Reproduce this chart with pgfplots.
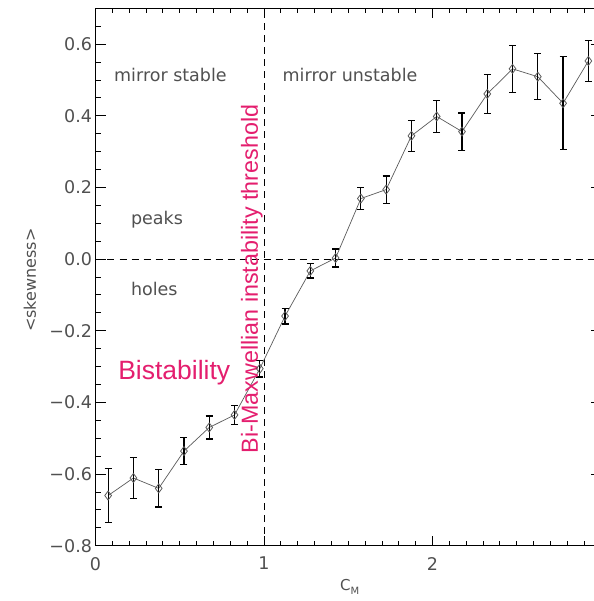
\documentclass[border=0pt]{standalone}
\usepackage{fontspec}
\setmainfont{DejaVu Sans}
\newfontfamily\arialfont{Liberation Sans}
\usepackage{pgfplots}
\pgfplotsset{compat=1.18}
\definecolor{labelpink}{RGB}{228,30,110}
\definecolor{txtgray}{RGB}{80,80,80}
\definecolor{linegray}{RGB}{90,90,90}

\pgfplotstableread{
x      y       e
0.075  -0.660  0.075
0.225  -0.611  0.058
0.375  -0.640  0.052
0.525  -0.536  0.037
0.675  -0.470  0.032
0.825  -0.435  0.027
0.975  -0.306  0.023
1.125  -0.159  0.022
1.275  -0.033  0.020
1.425   0.003  0.025
1.575   0.169  0.030
1.725   0.194  0.038
1.875   0.344  0.043
2.025   0.398  0.045
2.175   0.356  0.052
2.325   0.461  0.054
2.475   0.531  0.066
2.625   0.509  0.064
2.775   0.435  0.130
2.925   0.553  0.057
}\skewdata

\begin{document}
\begin{tikzpicture}
\begin{axis}[
  name=ax,
  scale only axis, width=505.5pt, height=537.4pt,
  xmin=0, xmax=3, ymin=-0.8, ymax=0.7,
  xtick={0,1,2,3}, xticklabels={0,1,2,{}},
  ytick={-0.8,-0.6,-0.4,-0.2,0,0.2,0.4,0.6},
  yticklabels={−0.8,−0.6,−0.4,−0.2,0.0,0.2,0.4,0.6},
  minor xtick={0,0.1,...,3},
  minor ytick={-0.75,-0.7,...,0.66},
  tick align=inside,
  major tick length=10pt, minor tick length=5pt,
  tick style={black, line width=0.9pt},
  axis line style={black, line width=1pt},
  ticklabel style={font=\fontsize{17.5}{20}\selectfont, text=txtgray},
  xticklabel style={yshift=-8pt},
  clip=false,
]
% reference lines: zero skewness and the mirror threshold
\draw[black, line width=0.9pt, dash pattern=on 7pt off 5pt] (axis cs:0,0) -- (axis cs:3,0);
\draw[black, line width=0.9pt, dash pattern=on 7pt off 5pt] (axis cs:1,-0.8) -- (axis cs:1,0.7);

\addplot[color=linegray, line width=0.7pt,
  mark=diamond, mark size=4.5pt,
  mark options={solid, draw=linegray, fill=none, line width=0.8pt},
  error bars/.cd, y dir=both, y explicit,
  error bar style={black, line width=1.2pt},
  error mark options={rotate=90, black, mark size=3.5pt, line width=1.2pt}]
  table[x=x, y=y, y error=e] {\skewdata};

% region annotations
\node[anchor=base west, text=txtgray, font=\fontsize{17.5}{20}\selectfont] at (axis cs:0.09,0.495) {mirror stable};
\node[anchor=base west, text=txtgray, font=\fontsize{17.5}{20}\selectfont] at (axis cs:1.09,0.495) {mirror unstable};
\node[anchor=base west, text=txtgray, font=\fontsize{17.5}{20}\selectfont] at (axis cs:0.19,0.097) {peaks};
\node[anchor=base west, text=txtgray, font=\fontsize{17.5}{20}\selectfont] at (axis cs:0.19,-0.102) {holes};

\node[anchor=base west, inner sep=0pt, text=labelpink, font=\arialfont\fontsize{26.5}{28}\selectfont] at (axis cs:0.134,-0.335) {Bistability};
\node[anchor=base west, inner sep=0pt, rotate=90, text=labelpink, font=\arialfont\fontsize{23.3}{26}\selectfont] at (axis cs:0.964,-0.542) {Bi-Maxwellian instability threshold};

% axis labels
\node[rotate=90, text=txtgray, font=\fontsize{16}{18}\selectfont] at (rel axis cs:-0.1296,0.494) {<skewness>};
\node[anchor=base west, inner sep=0pt, text=txtgray] at (axis cs:1.451,-0.925) {\fontsize{15}{16}\selectfont C\raisebox{-4pt}{\fontsize{10}{10}\selectfont M}};
\end{axis}
\pgfresetboundingbox
\path[use as bounding box] (ax.south west) ++(-95.5pt,-55.3pt) rectangle ++(593pt,601pt);
\end{tikzpicture}
\end{document}
